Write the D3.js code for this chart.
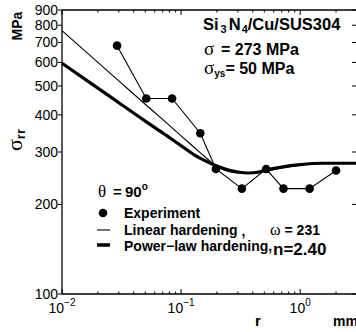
<!DOCTYPE html>
<html><head><meta charset="utf-8">
<script src="https://cdn.jsdelivr.net/npm/d3@7"></script>
<style>
html,body{margin:0;padding:0;background:#fff;overflow:hidden}
svg{display:block}
text{font-family:"Liberation Sans",Arial,sans-serif;fill:#000}
.b{font-weight:bold}
.serif{font-family:"Liberation Serif","Times New Roman",serif}
</style></head>
<body>
<svg id="c" width="356" height="332"></svg>
<script>
// ---- data ----
const expR = [0.029, 0.051, 0.084, 0.145, 0.196, 0.324, 0.518, 0.724, 1.2, 2.0];
const expS = [683, 454, 454, 347, 263, 226, 263, 226, 226, 260];

const linR = [0.01, 0.02, 0.03, 0.05, 0.07, 0.1, 0.13, 0.16, 0.18, 0.2, 0.25, 0.3, 0.4, 0.5, 0.7, 1.0, 1.5, 2.0, 3.0];
const linS = [767, 600, 520, 434, 386, 340, 310, 288, 277, 268, 258, 255, 254, 258, 265, 271, 274, 275, 275];

const powR = [0.01, 0.02, 0.03, 0.05, 0.07, 0.1, 0.13, 0.16, 0.2, 0.25, 0.3, 0.37, 0.45, 0.52, 0.7, 1.0, 1.5, 2.0, 3.0];
const powS = [596, 492, 439, 381, 348, 315, 293, 280, 269, 261, 257, 255, 257, 261, 267, 272, 275, 275, 275];

const yTicks = [100, 200, 300, 400, 500, 600, 700, 800, 900];
const xMajor = [0.01, 0.1, 1];
const xMajorExp = ["\u22122", "\u22121", "0"];

// ---- scales ----
const x = d3.scaleLog().domain([0.01, 3]).range([62, 357]);
const y = d3.scaleLog().domain([100, 900]).range([294, 10]);

const svg = d3.select("#c");

// minor ticks for x
const xMinor = [];
[0.01, 0.1, 1].forEach(d => { for (let k = 2; k <= 9; k++) { const v = d * k; if (v <= 3) xMinor.push(v); } });

// frame
svg.append("line").attr("x1", x(0.01)).attr("x2", x(3)).attr("y1", y(100)).attr("y2", y(100)).attr("stroke", "#000").attr("stroke-width", 1.3);
svg.append("line").attr("x1", x(0.01)).attr("x2", x(3)).attr("y1", y(900)).attr("y2", y(900)).attr("stroke", "#000").attr("stroke-width", 1.3);
svg.append("line").attr("x1", x(0.01)).attr("x2", x(0.01)).attr("y1", y(100)).attr("y2", y(900)).attr("stroke", "#000").attr("stroke-width", 1.3);
svg.append("line").attr("x1", x(3)).attr("x2", x(3)).attr("y1", y(100)).attr("y2", y(900)).attr("stroke", "#000").attr("stroke-width", 1.3);

// x ticks (inward, top and bottom)
const tk = svg.append("g").attr("stroke", "#000").attr("stroke-width", 1);
xMajor.forEach(v => {
  tk.append("line").attr("x1", x(v)).attr("x2", x(v)).attr("y1", y(100)).attr("y2", y(100) - 5);
  tk.append("line").attr("x1", x(v)).attr("x2", x(v)).attr("y1", y(900)).attr("y2", y(900) + 5);
});
xMinor.forEach(v => {
  tk.append("line").attr("x1", x(v)).attr("x2", x(v)).attr("y1", y(100)).attr("y2", y(100) - 2.5);
  tk.append("line").attr("x1", x(v)).attr("x2", x(v)).attr("y1", y(900)).attr("y2", y(900) + 2.5);
});
// y ticks
yTicks.forEach(v => {
  tk.append("line").attr("x1", x(0.01) - 4).attr("x2", x(0.01)).attr("y1", y(v)).attr("y2", y(v));
  tk.append("line").attr("x1", x(3) - 5).attr("x2", x(3)).attr("y1", y(v)).attr("y2", y(v));
});

// y tick labels
svg.append("g").selectAll("text").data(yTicks).join("text")
  .attr("x", 58).attr("y", d => y(d) + 5).attr("text-anchor", "end")
  .attr("font-size", 14).text(d => d);

// x tick labels
xMajor.forEach((v, i) => {
  const t = svg.append("text").attr("x", x(v)).attr("y", 313).attr("text-anchor", "middle").attr("font-size", 14);
  t.append("tspan").text("10");
  t.append("tspan").attr("font-size", 10).attr("dy", -7).text(xMajorExp[i]);
});

// axis titles
svg.append("text").attr("class", "b").attr("font-size", 14).attr("text-anchor", "middle")
  .attr("transform", "translate(22,26) rotate(-90)").text("MPa");
const sy = svg.append("text").attr("text-anchor", "middle")
  .attr("transform", "translate(22,140) rotate(-90)");
sy.append("tspan").attr("class", "serif").attr("font-size", 22).text("\u03c3");
sy.append("tspan").attr("class", "b").attr("font-size", 13).attr("dy", 3).text("rr");
svg.append("text").attr("class", "b").attr("font-size", 15).attr("x", 258).attr("y", 326).attr("text-anchor", "middle").text("r");
svg.append("text").attr("class", "b").attr("font-size", 14).attr("x", 333).attr("y", 326).text("mm");

// curves
const line = d3.line().x(d => x(d[0])).y(d => y(d[1])).curve(d3.curveMonotoneX);
svg.append("path").datum(powR.map((r, i) => [r, powS[i]])).attr("d", line)
  .attr("fill", "none").attr("stroke", "#000").attr("stroke-width", 3.2);
svg.append("path").datum(linR.map((r, i) => [r, linS[i]])).attr("d", line)
  .attr("fill", "none").attr("stroke", "#000").attr("stroke-width", 1.1);

// experiment
const ex = expR.map((r, i) => [r, expS[i]]);
svg.append("path").datum(ex).attr("d", d3.line().x(d => x(d[0])).y(d => y(d[1])))
  .attr("fill", "none").attr("stroke", "#000").attr("stroke-width", 1.1);
svg.append("g").selectAll("circle").data(ex).join("circle")
  .attr("cx", d => x(d[0])).attr("cy", d => y(d[1])).attr("r", 4.3).attr("fill", "#000");

// annotation top right
const t1 = svg.append("text").attr("class", "b").attr("x", 203).attr("y", 30).attr("font-size", 16.5);
t1.append("tspan").text("Si");
t1.append("tspan").attr("font-size", 11).attr("dy", 3).attr("dx", 2).text("3");
t1.append("tspan").attr("dy", -3).attr("dx", 2).text("N");
t1.append("tspan").attr("font-size", 11).attr("dy", 3).attr("dx", 1).text("4");
t1.append("tspan").attr("dy", -3).text("/Cu/SUS304");

const t2 = svg.append("text").attr("x", 204).attr("y", 55).attr("font-size", 16);
t2.append("tspan").attr("class", "serif").attr("font-size", 19).text("\u03c3");
t2.append("tspan").attr("class", "b").attr("x", 221).text("= 273 MPa");

const t3 = svg.append("text").attr("x", 204).attr("y", 74).attr("font-size", 16);
t3.append("tspan").attr("class", "serif").attr("font-size", 19).text("\u03c3");
t3.append("tspan").attr("class", "b").attr("font-size", 10).attr("dy", 3).text("ys");
t3.append("tspan").attr("class", "b").attr("dy", -3).text("= 50 MPa");

// legend
const th = svg.append("text").attr("x", 98).attr("y", 197).attr("font-size", 15);
th.append("tspan").attr("class", "serif").attr("font-size", 17).text("\u03b8");
th.append("tspan").attr("class", "b").attr("x", 113).text("=");
th.append("tspan").attr("class", "b").attr("x", 125).text("90");
th.append("tspan").attr("class", "b").attr("font-size", 10).attr("dy", -7).text("o");

svg.append("circle").attr("cx", 103).attr("cy", 213).attr("r", 4.3).attr("fill", "#000");
svg.append("text").attr("class", "b").attr("x", 124).attr("y", 218).attr("font-size", 14).text("Experiment");

svg.append("line").attr("x1", 97).attr("x2", 110).attr("y1", 230).attr("y2", 230).attr("stroke", "#000").attr("stroke-width", 1.1);
const l1 = svg.append("text").attr("x", 124).attr("y", 235).attr("font-size", 14);
l1.append("tspan").attr("class", "b").text("Linear hardening");
l1.append("tspan").attr("class", "b").attr("dx", 4).attr("dy", 1).text(",");
l1.append("tspan").attr("class", "serif").attr("x", 270).attr("dy", -1).attr("font-size", 16).text("\u03c9");
l1.append("tspan").attr("class", "b").attr("dx", 4).text("= 231");

svg.append("line").attr("x1", 97).attr("x2", 110).attr("y1", 245).attr("y2", 245).attr("stroke", "#000").attr("stroke-width", 3.5);
const l2 = svg.append("text").attr("x", 124).attr("y", 251).attr("font-size", 14);
l2.append("tspan").attr("class", "b").text("Power\u2212law hardening,");
l2.append("tspan").attr("class", "b").attr("x", 273).attr("dy", 4).attr("font-size", 17).text("n=2.40");
</script>
</body></html>
